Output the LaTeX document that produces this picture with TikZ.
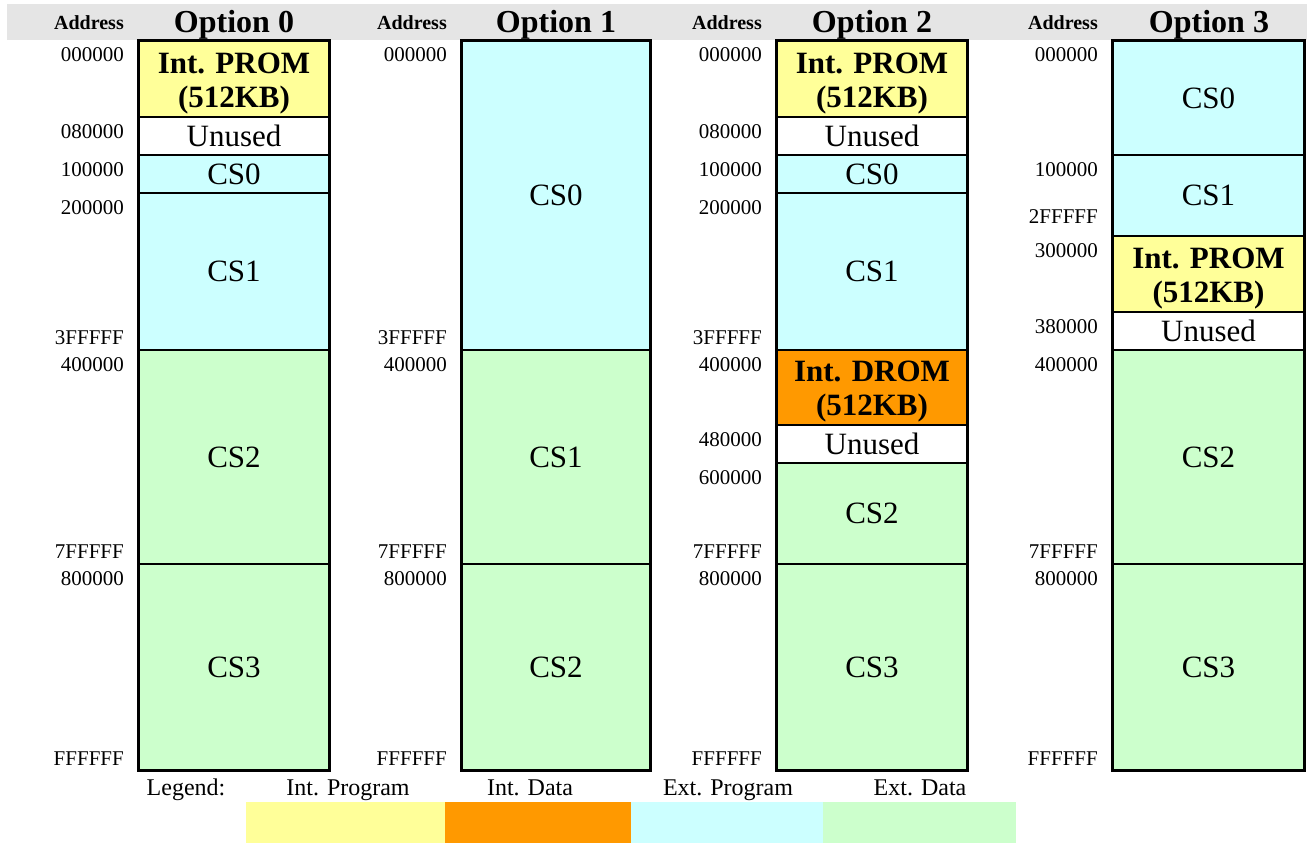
\documentclass[tikz,border=0pt]{standalone}
\usepackage{fontspec}
\setmainfont{Liberation Serif}
\definecolor{hdr}{RGB}{229,229,229}
\definecolor{yel}{RGB}{255,255,153}
\definecolor{org}{RGB}{255,153,0}
\definecolor{cyn}{RGB}{204,255,255}
\definecolor{grn}{RGB}{204,255,204}
\newcommand\mseg[7]{%
  \node[seg,fill=#6,minimum width={(#3-#2)*1pt},minimum height={(#5-#4)*1pt}] (#1) at ({(#2+#3)/2},{(#4+#5)/2}) {#7};}
\newcommand\madr[4]{\node[adr] (#1) at (#2,#3) {#4};}
\newcommand\romtxt[1]{\bfseries\rule{0pt}{29pt}Int. #1\\[-1pt]\bfseries (512KB)}
\begin{document}
\begin{tikzpicture}[x=1pt,y=-1pt,
  seg/.style={draw=black,line width=2pt,inner sep=0pt,align=center,font=\fontsize{31}{35}\selectfont},
  adr/.style={anchor=base east,inner sep=0pt,font=\fontsize{21}{25}\selectfont},
  adrhdr/.style={anchor=base east,inner sep=0pt,font=\fontsize{20}{24}\selectfont\bfseries},
  opthdr/.style={anchor=base,inner sep=0pt,font=\fontsize{32}{36}\selectfont\bfseries},
  leg/.style={anchor=base,inner sep=0pt,font=\fontsize{24}{28}\selectfont},
  frame/.style={draw=black,line width=2.5pt}]
\useasboundingbox (0,0) rectangle (1307,843);
\fill[hdr] (7,4) rectangle (1307,40);
% headers
\node[adrhdr] (h0a) at (124,30) {Address};
\node[opthdr] (h0) at (234,33) {Option 0};
\node[adrhdr] (h1a) at (447,30) {Address};
\node[opthdr] (h1) at (556,33) {Option 1};
\node[adrhdr] (h2a) at (762,30) {Address};
\node[opthdr] (h2) at (872,33) {Option 2};
\node[adrhdr] (h3a) at (1098,30) {Address};
\node[opthdr] (h3) at (1209,33) {Option 3};
% Option 0
\mseg{a1}{139}{329}{41}{117}{yel}{\romtxt{PROM}}
\mseg{a2}{139}{329}{117}{155}{white}{Unused}
\mseg{a3}{139}{329}{155}{193}{cyn}{CS0}
\mseg{a4}{139}{329}{193}{350}{cyn}{CS1}
\mseg{a5}{139}{329}{350}{564}{grn}{CS2}
\mseg{a6}{139}{329}{564}{770}{grn}{CS3}
\draw[frame] (a1.north west) rectangle (a6.south east);
\madr{a0l1}{124}{62}{000000}
\madr{a0l2}{124}{138}{080000}
\madr{a0l3}{124}{176}{100000}
\madr{a0l4}{124}{214}{200000}
\madr{a0l5}{124}{344}{3FFFFF}
\madr{a0l6}{124}{371}{400000}
\madr{a0l7}{124}{558}{7FFFFF}
\madr{a0l8}{124}{585}{800000}
\madr{a0l9}{124}{765}{FFFFFF}
% Option 1
\mseg{b1}{462}{650}{41}{350}{cyn}{CS0}
\mseg{b2}{462}{650}{350}{564}{grn}{CS1}
\mseg{b3}{462}{650}{564}{770}{grn}{CS2}
\draw[frame] (b1.north west) rectangle (b3.south east);
\madr{b0l1}{447}{62}{000000}
\madr{b0l5}{447}{344}{3FFFFF}
\madr{b0l6}{447}{371}{400000}
\madr{b0l7}{447}{558}{7FFFFF}
\madr{b0l8}{447}{585}{800000}
\madr{b0l9}{447}{765}{FFFFFF}
% Option 2
\mseg{c1}{777}{967}{41}{117}{yel}{\romtxt{PROM}}
\mseg{c2}{777}{967}{117}{155}{white}{Unused}
\mseg{c3}{777}{967}{155}{193}{cyn}{CS0}
\mseg{c4}{777}{967}{193}{350}{cyn}{CS1}
\mseg{c5}{777}{967}{350}{425}{org}{\romtxt{DROM}}
\mseg{c6}{777}{967}{425}{463}{white}{Unused}
\mseg{c7}{777}{967}{463}{564}{grn}{CS2}
\mseg{c8}{777}{967}{564}{770}{grn}{CS3}
\draw[frame] (c1.north west) rectangle (c8.south east);
\madr{c0l1}{762}{62}{000000}
\madr{c0l2}{762}{138}{080000}
\madr{c0l3}{762}{176}{100000}
\madr{c0l4}{762}{214}{200000}
\madr{c0l5}{762}{344}{3FFFFF}
\madr{c0l6}{762}{371}{400000}
\madr{c0l10}{762}{446}{480000}
\madr{c0l11}{762}{484}{600000}
\madr{c0l7}{762}{558}{7FFFFF}
\madr{c0l8}{762}{585}{800000}
\madr{c0l9}{762}{765}{FFFFFF}
% Option 3
\mseg{d1}{1113}{1304}{41}{155}{cyn}{CS0}
\mseg{d2}{1113}{1304}{155}{236}{cyn}{CS1}
\mseg{d3}{1113}{1304}{236}{312}{yel}{\romtxt{PROM}}
\mseg{d4}{1113}{1304}{312}{350}{white}{Unused}
\mseg{d5}{1113}{1304}{350}{564}{grn}{CS2}
\mseg{d6}{1113}{1304}{564}{770}{grn}{CS3}
\draw[frame] (d1.north west) rectangle (d6.south east);
\madr{d0l1}{1098}{62}{000000}
\madr{d0l2}{1098}{176}{100000}
\madr{d0l3}{1098}{223}{2FFFFF}
\madr{d0l4}{1098}{257}{300000}
\madr{d0l5}{1098}{333}{380000}
\madr{d0l6}{1098}{371}{400000}
\madr{d0l7}{1098}{558}{7FFFFF}
\madr{d0l8}{1098}{585}{800000}
\madr{d0l9}{1098}{765}{FFFFFF}
% Legend
\node[leg] (lg) at (186,795) {Legend:};
\node[leg] (lg1) at (348,795) {Int. Program};
\node[leg] (lg2) at (530,795) {Int. Data};
\node[leg] (lg3) at (728,795) {Ext. Program};
\node[leg] (lg4) at (920,795) {Ext. Data};
\fill[yel] (246,802) rectangle (445,843);
\fill[org] (445,802) rectangle (631,843);
\fill[cyn] (631,802) rectangle (823,843);
\fill[grn] (823,802) rectangle (1016,843);
\end{tikzpicture}
\end{document}
